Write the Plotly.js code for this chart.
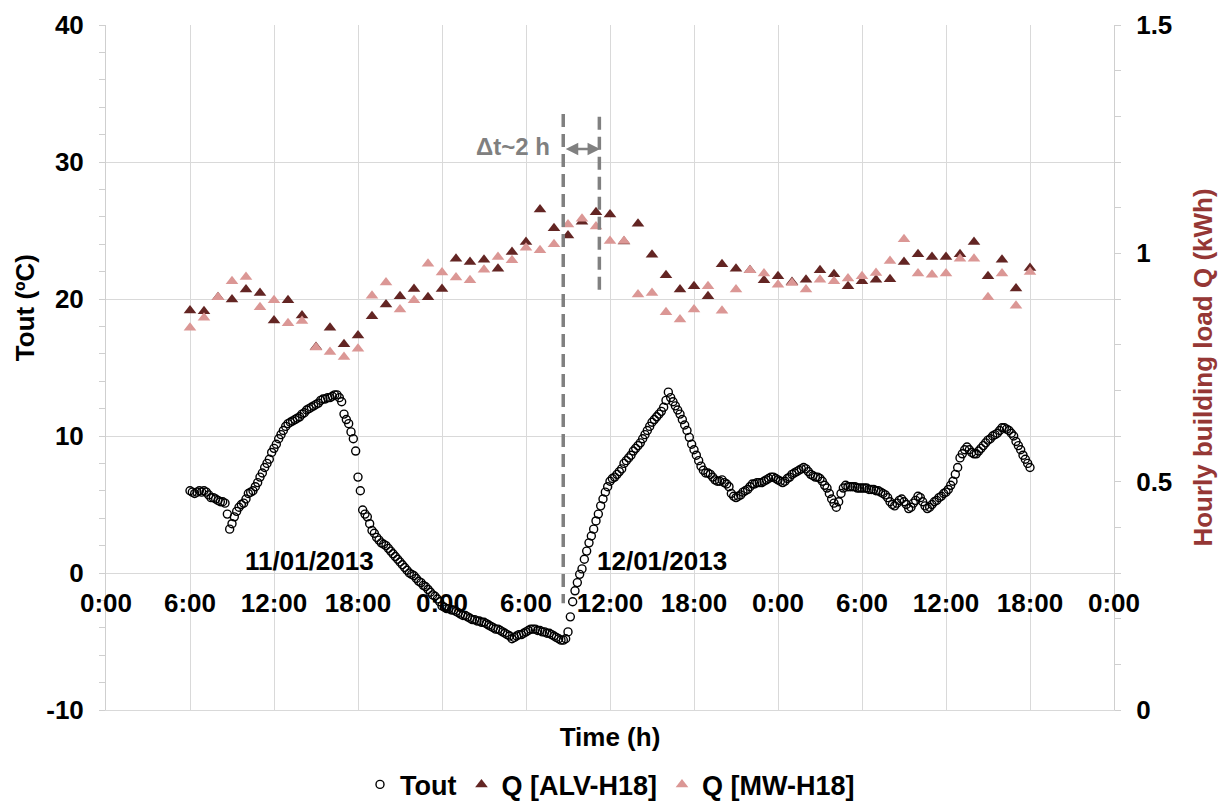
<!DOCTYPE html>
<html><head><meta charset="utf-8">
<script src="https://cdn.plot.ly/plotly-3.0.1.min.js"></script>
<style>html,body{margin:0;padding:0;background:#fff}#chart{width:1229px;height:805px}</style>
</head><body><div id="chart"></div>
<script>
// ---- data (hours since 0:00 on 11/01/2013) ----
const toutStartHour = 6;
const toutStepHours = 1 / 6; // 10-minute samples
const toutValues = [
  6.0, 5.9, 5.8, 5.9, 6.0, 5.9,
  6.0, 5.9, 5.7, 5.5, 5.5, 5.4,
  5.3, 5.2, 5.2, 5.1, 4.3, 3.2,
  3.6, 4.1, 4.5, 4.8, 5.0, 5.1,
  5.4, 5.8, 5.9, 6.0, 6.3, 6.6,
  7.0, 7.3, 7.7, 8.0, 8.3, 8.8,
  9.1, 9.4, 9.8, 10.1, 10.4, 10.7,
  10.9, 11.0, 11.1, 11.2, 11.3, 11.4,
  11.6, 11.7, 11.9, 12.0, 12.1, 12.2,
  12.3, 12.4, 12.6, 12.7, 12.7, 12.8,
  12.8, 12.9, 13.0, 13.0, 12.8, 12.5,
  11.6, 11.2, 10.9, 10.3, 9.8, 8.9,
  7.0, 6.0, 4.6, 4.3, 4.1, 3.6,
  3.1, 2.9, 2.6, 2.4, 2.2, 2.1,
  2.0, 1.8, 1.6, 1.4, 1.2, 1.0,
  0.8, 0.6, 0.4, 0.2, 0.0, -0.1,
  -0.2, -0.4, -0.6, -0.7, -0.9, -1.0,
  -1.2, -1.4, -1.6, -1.7, -1.9, -2.1,
  -2.4, -2.5, -2.6, -2.6, -2.7, -2.7,
  -2.8, -2.9, -3.0, -3.1, -3.1, -3.2,
  -3.3, -3.4, -3.4, -3.5, -3.5, -3.6,
  -3.6, -3.7, -3.8, -3.9, -4.0, -4.1,
  -4.1, -4.2, -4.3, -4.4, -4.5, -4.6,
  -4.8, -4.7, -4.6, -4.5, -4.5, -4.4,
  -4.3, -4.2, -4.1, -4.1, -4.1, -4.2,
  -4.2, -4.3, -4.3, -4.4, -4.4, -4.5,
  -4.6, -4.7, -4.8, -4.9, -4.9, -4.8,
  -4.3, -3.2, -2.1, -1.3, -0.7, -0.1,
  0.3, 1.0, 1.6, 2.2, 2.7, 3.2,
  3.8, 4.3, 4.9, 5.4, 5.9, 6.3,
  6.7, 6.9, 7.0, 7.2, 7.4, 7.6,
  8.0, 8.2, 8.4, 8.6, 8.9, 9.1,
  9.3, 9.5, 9.8, 10.1, 10.4, 10.7,
  11.0, 11.2, 11.4, 11.6, 11.8, 12.1,
  12.6, 13.2, 12.8, 12.5, 12.2, 11.9,
  11.6, 11.2, 10.8, 10.4, 9.9, 9.4,
  9.0, 8.6, 8.2, 7.8, 7.5, 7.3,
  7.3, 7.2, 7.0, 6.8, 6.7, 6.7,
  6.8, 6.6, 6.5, 6.3, 5.8, 5.6,
  5.5, 5.6, 5.7, 5.9, 6.0, 6.1,
  6.3, 6.5, 6.5, 6.6, 6.6, 6.6,
  6.7, 6.8, 6.9, 7.0, 7.0, 6.9,
  6.8, 6.7, 6.6, 6.7, 6.9, 7.0,
  7.2, 7.3, 7.4, 7.5, 7.6, 7.7,
  7.6, 7.4, 7.2, 7.1, 7.0, 7.0,
  6.9, 6.7, 6.4, 6.2, 5.8, 5.4,
  5.1, 4.8, 5.2, 5.8, 6.2, 6.4,
  6.3, 6.3, 6.3, 6.3, 6.2, 6.2,
  6.2, 6.2, 6.2, 6.1, 6.1, 6.1,
  6.0, 6.0, 5.9, 5.8, 5.7, 5.5,
  5.2, 5.0, 4.9, 5.1, 5.3, 5.4,
  5.2, 5.0, 4.7, 4.8, 5.1, 5.3,
  5.6, 5.5, 5.2, 4.9, 4.7, 4.8,
  5.0, 5.2, 5.3, 5.5, 5.6, 5.8,
  5.9, 6.1, 6.4, 6.7, 7.2, 7.7,
  8.4, 8.7, 9.0, 9.2, 9.0, 8.8,
  8.7, 8.7, 8.9, 9.1, 9.3, 9.5,
  9.7, 9.8, 10.0, 10.1, 10.2, 10.4,
  10.6, 10.6, 10.5, 10.4, 10.2, 10.0,
  9.6, 9.3, 9.0, 8.6, 8.3, 8.0,
  7.7
];

const qHours = [6,7,8,9,10,11,12,13,14,15,16,17,18,19,20,21,22,23,24,25,26,27,28,29,30,31,32,33,34,35,
  36,37,38,39,40,41,42,43,44,45,46,47,48,49,50,51,52,53,54,55,56,57,58,59,60,61,62,63,64,65,66];
const qALV = [0.875,0.873,0.904,0.899,0.921,0.913,0.853,0.897,0.864,0.795,
  0.837,0.801,0.820,0.862,0.888,0.906,0.922,0.904,0.922,0.988,
  0.981,0.986,0.966,1.003,1.025,1.096,1.055,1.039,1.069,1.090,
  1.085,1.026,1.065,0.997,0.952,0.921,0.928,0.906,0.976,0.966,
  0.963,0.941,0.950,0.937,0.942,0.963,0.954,0.928,0.939,0.942,
  0.943,0.981,0.998,0.992,0.992,0.998,1.025,0.950,0.986,0.923,0.968];
const qMW = [0.837,0.859,0.904,0.939,0.948,0.882,0.897,0.847,0.852,0.794,
  0.784,0.773,0.791,0.907,0.936,0.877,0.897,0.977,0.958,0.947,
  0.941,0.964,0.992,0.985,1.012,1.007,1.020,1.063,1.076,1.059,
  1.027,1.027,0.910,0.913,0.871,0.855,0.877,0.928,0.874,0.921,
  0.963,0.956,0.931,0.935,0.921,0.942,0.939,0.945,0.950,0.957,
  0.983,1.031,0.956,0.953,0.956,0.988,0.988,0.904,0.956,0.885,0.959];

const tickHours = [0,6,12,18,24,30,36,42,48,54,60,66,72];
const tickLabels = ['0:00','6:00','12:00','18:00','0:00','6:00','12:00','18:00','0:00','6:00','12:00','18:00','0:00'];
const toutTicks = [-10, 0, 10, 20, 30, 40];
const toutTickLabels = ['-10', '0', '10', '20', '30', '40'];

// ---- build ----
const toutHours = toutValues.map((v, i) => toutStartHour + i * toutStepHours);
const FONT = 'Liberation Sans, Arial, Helvetica, sans-serif';
const GRID = '#d9d9d9';
const AXIS = '#cfcfcf';
const f = (size, color) => ({family: FONT, size: size, color: color || '#000', weight: 'bold'});

const traces = [
  {type: 'scatter', mode: 'markers', name: 'Tout', x: toutHours, y: toutValues, xaxis: 'x', yaxis: 'y',
   marker: {symbol: 'circle-open', size: 8, color: '#000', line: {width: 1.4, color: '#000'}}},
  {type: 'scatter', mode: 'markers', name: 'Q [ALV-H18]', x: qHours, y: qALV, xaxis: 'x', yaxis: 'y2',
   marker: {symbol: 'triangle-up', size: 11, color: '#632523'}},
  {type: 'scatter', mode: 'markers', name: 'Q [MW-H18]', x: qHours, y: qMW, xaxis: 'x', yaxis: 'y2',
   marker: {symbol: 'triangle-up', size: 11, color: '#DB9795'}},
  // carrier for the time-label axis that crosses at 0 °C (no visible marks)
  {type: 'scatter', mode: 'markers', x: [tickHours[0]], y: [null], xaxis: 'x2', yaxis: 'y',
   showlegend: false, hoverinfo: 'skip', marker: {opacity: 0}}
];

const layout = {
  width: 1229, height: 805,
  margin: {l: 106, r: 115, t: 25, b: 95},
  paper_bgcolor: '#fff', plot_bgcolor: '#fff',
  showlegend: true,
  legend: {orientation: 'h', x: 0.5, xanchor: 'center', xref: 'paper', y: 0.025, yref: 'container', yanchor: 'middle',
           font: f(27), bgcolor: 'rgba(0,0,0,0)'},
  xaxis: {range: [0, 72], tickvals: tickHours, showticklabels: false, ticks: '', showgrid: true, gridcolor: GRID,
          showline: true, linecolor: GRID, zeroline: false, fixedrange: true,
          title: {text: 'Time (h)', font: f(26), standoff: 17}},
  xaxis2: {overlaying: 'x', anchor: 'free', position: 0.2, range: [0, 72], tickvals: tickHours, ticktext: tickLabels,
           showgrid: false, showline: false, zeroline: false, ticks: '', tickfont: f(26), ticklabelstandoff: 12,
           fixedrange: true},
  yaxis: {range: [-10, 40], tickvals: toutTicks, ticktext: toutTickLabels, showgrid: true, gridcolor: GRID,
          showline: true, linecolor: AXIS, zeroline: false, ticks: 'outside', ticklen: 6, tickcolor: AXIS,
          tickfont: f(26), ticklabelstandoff: 10,
          minor: {tick0: 0, dtick: 2, ticks: 'outside', ticklen: 6, tickcolor: AXIS, showgrid: false}, fixedrange: true},
  yaxis2: {overlaying: 'y', side: 'right', range: [0, 1.5], tick0: 0, dtick: 0.5, showgrid: false, showline: true,
           linecolor: AXIS, zeroline: false, ticks: 'outside', ticklen: 6, tickcolor: AXIS, tickfont: f(26),
           ticklabelstandoff: 10, minor: {dtick: 0.1, ticks: 'outside', ticklen: 6, tickcolor: AXIS, showgrid: false},
           title: {text: 'Hourly building load Q (kWh)', font: f(26, '#953735'), standoff: 22}, fixedrange: true},
  shapes: [
    {type: 'line', xref: 'x', yref: 'y', x0: 32.66, x1: 32.66, y0: 33.5, y1: -2.2,
     line: {color: '#808080', width: 3.5, dash: '13px,7px'}},
    {type: 'line', xref: 'x', yref: 'y', x0: 35.24, x1: 35.24, y0: 33.3, y1: 20.45,
     line: {color: '#808080', width: 3.5, dash: '13px,7px'}}
  ],
  annotations: [
    {text: 'Tout (ºC)', textangle: -90, xref: 'paper', x: -0.0804, xanchor: 'center', yref: 'paper', y: 0.588,
     yanchor: 'middle', showarrow: false, font: f(26)},
    {text: '11/01/2013', xref: 'x', yref: 'y', x: 14.57, y: 0.9, showarrow: false, font: f(26)},
    {text: '12/01/2013', xref: 'x', yref: 'y', x: 39.7, y: 0.9, showarrow: false, font: f(26)},
    {text: 'Δt~2 h', xref: 'x', yref: 'y', x: 31.84, xanchor: 'right', y: 31.1, showarrow: false, font: f(24, '#808080')},
    {text: '', xref: 'x', yref: 'y', x: 35.29, y: 30.95, axref: 'x', ayref: 'y', ax: 32.73, ay: 30.95,
     showarrow: true, arrowside: 'end+start', arrowhead: 2, arrowsize: 1, arrowwidth: 2.5, arrowcolor: '#808080'}
  ]
};

Plotly.newPlot('chart', traces, layout, {displayModeBar: false, staticPlot: true});
</script>
</body></html>
